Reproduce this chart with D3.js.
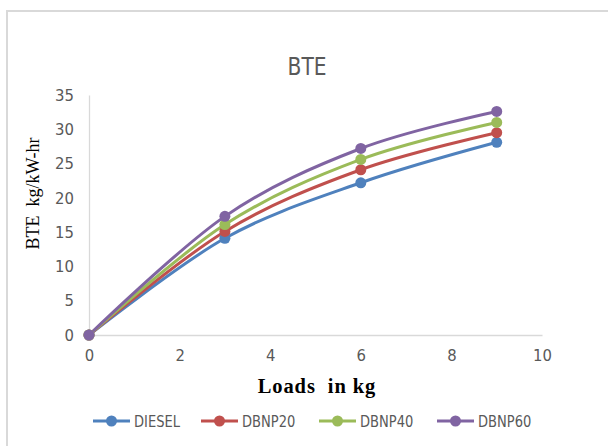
<!DOCTYPE html>
<html>
<head>
<meta charset="utf-8">
<script src="https://cdn.jsdelivr.net/npm/d3@7"></script>
<style>
  html, body { margin: 0; padding: 0; background: #fff; }
  svg { display: block; }
  .sans { font-family: "Liberation Sans Narrow", "DejaVu Sans Condensed", "Roboto", sans-serif; }
  .serif { font-family: "Liberation Serif", "DejaVu Serif", serif; }
</style>
</head>
<body>
<svg id="chart" width="608" height="446"></svg>
<script>
// Loads (kg) and brake thermal efficiency for each fuel blend
const loads = [0, 3, 6, 9];
const diesel = [0, 14.1, 22.2, 28.1];
const dbnp20 = [0, 15.1, 24.1, 29.5];
const dbnp40 = [0, 16.1, 25.6, 31.0];
const dbnp60 = [0, 17.3, 27.2, 32.6];
const seriesNames = ["DIESEL", "DBNP20", "DBNP40", "DBNP60"];
const seriesColors = ["#4F81BD", "#C0504D", "#9BBB59", "#8064A2"];
const xTicks = [0, 2, 4, 6, 8, 10];
const yTicks = [0, 5, 10, 15, 20, 25, 30, 35];

const series = [diesel, dbnp20, dbnp40, dbnp60].map((vals, i) => ({
  name: seriesNames[i],
  color: seriesColors[i],
  points: vals.map((v, j) => ({ x: loads[j], y: v }))
}));

const svg = d3.select("#chart");

// Outer chart frame (extends past the right and bottom edges)
svg.append("rect")
  .attr("x", 7).attr("y", 11)
  .attr("width", 640).attr("height", 480)
  .attr("fill", "#fff")
  .attr("stroke", "#d9d9d9").attr("stroke-width", 2);

const x = d3.scaleLinear().domain([0, 10]).range([89, 542]);
const y = d3.scaleLinear().domain([0, 35]).range([335, 95]);

// Axes
const xAxis = svg.append("g").attr("transform", `translate(0,${y(0)})`)
  .call(d3.axisBottom(x).tickValues(xTicks).tickSize(0).tickPadding(14).tickFormat(d3.format("d")));
const yAxis = svg.append("g").attr("transform", `translate(${x(0)},0)`)
  .call(d3.axisLeft(y).tickValues(yTicks).tickSize(0).tickPadding(15).tickFormat(d3.format("d")));

[xAxis, yAxis].forEach(g => {
  g.select(".domain").attr("stroke", "#d9d9d9").attr("stroke-width", 1.3);
  g.selectAll("text")
    .attr("class", "sans")
    .attr("fill", "#595959")
    .style("font-size", "16.5px");
});

// Title
svg.append("text")
  .attr("class", "sans")
  .attr("transform", "translate(307,75) scale(0.9,1)")
  .attr("text-anchor", "middle")
  .attr("fill", "#595959")
  .style("font-size", "25px")
  .text("BTE");

// Axis titles
svg.append("text")
  .attr("class", "serif")
  .attr("transform", "translate(39,193.5) rotate(-90)")
  .attr("text-anchor", "middle")
  .attr("fill", "#000")
  .style("font-size", "18px")
  .style("white-space", "pre")
  .text("BTE  kg/kW-hr");

svg.append("text")
  .attr("class", "serif")
  .attr("x", 317).attr("y", 393)
  .attr("text-anchor", "middle")
  .attr("fill", "#000")
  .style("font-size", "20.5px")
  .style("font-weight", "bold")
  .style("letter-spacing", "0.9px")
  .style("white-space", "pre")
  .text("Loads  in kg");

// Smoothed series lines and markers
const line = d3.line()
  .x(d => x(d.x))
  .y(d => y(d.y))
  .curve(d3.curveCardinal.tension(0));

const g = svg.append("g");
series.forEach(s => {
  g.append("path")
    .datum(s.points)
    .attr("d", line)
    .attr("fill", "none")
    .attr("stroke", s.color)
    .attr("stroke-width", 3)
    .attr("stroke-linecap", "round");
});
series.forEach(s => {
  g.selectAll(null)
    .data(s.points)
    .join("circle")
    .attr("cx", d => x(d.x))
    .attr("cy", d => y(d.y))
    .attr("r", 5.5)
    .attr("fill", s.color);
});

// Legend
const legendX = [93, 201, 319, 437];
const legend = svg.append("g").attr("transform", "translate(0,421)");
series.forEach((s, i) => {
  const item = legend.append("g").attr("transform", `translate(${legendX[i]},0)`);
  item.append("line")
    .attr("x1", 0).attr("x2", 37)
    .attr("stroke", s.color).attr("stroke-width", 3);
  item.append("circle")
    .attr("cx", 18.5).attr("r", 5.5)
    .attr("fill", s.color);
  item.append("text")
    .attr("class", "sans")
    .attr("transform", "translate(41,6) scale(0.88,1)")
    .attr("fill", "#595959")
    .style("font-size", "16.5px")
    .text(s.name);
});
</script>
</body>
</html>
